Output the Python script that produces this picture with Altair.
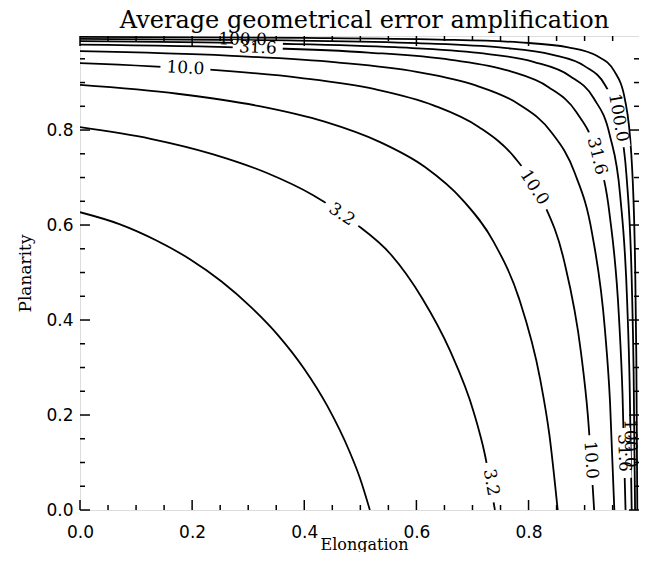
import altair as alt
import pandas as pd

# ---- contour lines (elongation, planarity) ----
levels = ["1.8", "3.2", "5.6", "10.0", "17.8", "31.6", "56.2", "100.0", "178"]
elong = {
    "1.8":   [0, .0702, .1355, .1961, .2525, .3050, .3538, .3991, .4413, .4805, .4991, .517],
    "3.2":   [0, .1260, .2362, .3325, .4166, .4901, .5544, .6105, .6596, .7025, .7219, .740],
    "5.6":   [0, .1739, .3176, .4363, .5343, .6153, .6822, .7375, .7831, .8208, .8372, .852],
    "10.0":  [0, .2203, .3921, .5261, .6305, .7119, .7754, .8248, .8635, .8935, .9060, .917],
    "17.8":  [0, .2634, .4575, .6004, .7057, .7832, .8403, .8823, .9134, .9362, .9453, .953],
    "31.6":  [0, .3031, .5144, .6616, .7642, .8357, .8855, .9202, .9444, .9612, .9676, .973],
    "56.2":  [0, .3387, .5627, .7108, .8088, .8735, .9163, .9447, .9634, .9758, .9803, .984],
    "100.0": [0, .3690, .6019, .7488, .8415, .9000, .9369, .9602, .9749, .9842, .9874, .990],
    "178":   [0, .4005, .6405, .7845, .8708, .9225, .9535, .9722, .9833, .9900, .9922, .994],
}
planar = {
    "1.8":   [.627, .602, .568, .528, .481, .4271, .3673, .2985, .2186, .1237, .068, 0],
    "3.2":   [.806, .7816, .7494, .7100, .6622, .6040, .538, .4454, .3364, .205, .118, 0],
    "5.6":   [.895, .8764, .8508, .8176, .775, .722, .653, .565, .445, .275, .158, 0],
    "10.0":  [.941, .928, .910, .886, .852, .806, .742, .652, .524, .332, .196, 0],
    "17.8":  [.966, .9566, .9424, .9225, .894, .854, .796, .710, .582, .380, .228, 0],
    "31.6":  [.980, .9735, .9632, .9478, .9249, .8903, .8373, .7550, .6241, .4075, .2437, 0],
    "56.2":  [.987, .9822, .9744, .9623, .9436, .9140, .8668, .7901, .6625, .4407, .2666, 0],
    "100.0": [.992, .9887, .9830, .9739, .9590, .9346, .8937, .8237, .7011, .4758, .2916, 0],
    "178":   [.996, .9940, .9905, .9845, .9741, .9558, .9229, .8626, .7486, .5223, .3258, 0],
}

# contour labels: text, elongation, planarity, rotation (deg), has blank background
label_text  = ["3.2", "3.2", "10.0", "10.0", "10.0", "31.6", "31.6", "31.6", "100.0", "100.0", "100.0"]
label_e     = [0.467, 0.733, 0.188, 0.810, 0.911, 0.317, 0.922, 0.970, 0.290, 0.960, 0.981]
label_p     = [0.622, 0.058, 0.930, 0.679, 0.105, 0.973, 0.745, 0.120, 0.990, 0.826, 0.140]
label_angle = [34, 80, 3, 57, 86, 2, 76, 88, 1, 80, 89]
label_blank = [1, 1, 1, 1, 1, 1, 1, 1, 0, 1, 0]

x_major = [0.0, 0.2, 0.4, 0.6, 0.8]
x_minor = [0.05, 0.1, 0.15, 0.25, 0.3, 0.35, 0.45, 0.5, 0.55, 0.65, 0.7, 0.75, 0.85, 0.9, 0.95]
y_major = [0.0, 0.2, 0.4, 0.6, 0.8]
y_minor = [0.05, 0.1, 0.15, 0.25, 0.3, 0.35, 0.45, 0.5, 0.55, 0.65, 0.7, 0.75, 0.85, 0.9, 0.95]

W, H = 559, 474
XDOM = [0, 0.997]
YDOM = [0, 0.998]
SERIF = "DejaVu Serif"
SANS = "DejaVu Sans"

rows = []
for lv in levels:
    for i, (e, p) in enumerate(zip(elong[lv], planar[lv])):
        rows.append({"level": lv, "order": i, "e": e, "p": p})
lines_df = pd.DataFrame(rows)

lab_df = pd.DataFrame({"text": label_text, "e": label_e, "p": label_p,
                       "angle": label_angle, "blank": label_blank})
lab_df["w"] = lab_df["text"].str.len()

xs = alt.Scale(domain=XDOM, nice=False, zero=False)
ys = alt.Scale(domain=YDOM, nice=False, zero=False)

x_axis = alt.Axis(values=x_major, format=".1f", ticks=False, tickSize=0,
                  domain=False, grid=False, labelFont=SANS, labelFontSize=17,
                  labelColor="black", labelPadding=14, labelFlush=False,
                  titleFont=SERIF, titleFontSize=16, titleFontWeight="normal",
                  titleColor="black", titleBaseline="alphabetic", titleY=39, titleX=284)
y_axis = alt.Axis(values=y_major, format=".1f", ticks=False, tickSize=0,
                  domain=False, grid=False, labelFont=SANS, labelFontSize=17,
                  labelColor="black", labelPadding=7, titleFont=SERIF,
                  titleFontSize=17, titleFontWeight="normal", titleColor="black",
                  titlePadding=11)


def X(field):
    return alt.X(field, scale=xs, axis=x_axis, title="Elongation")


def Y(field):
    return alt.Y(field, scale=ys, axis=y_axis, title="Planarity")


lines = alt.Chart(lines_df).mark_line(
    color="black", strokeWidth=1.8, interpolate="monotone", clip=True
).encode(
    x=X("e:Q"), y=Y("p:Q"),
    detail="level:N",
    order="order:Q",
)


def blank_layer(nchar, path, size):
    return alt.Chart(lab_df).transform_filter(
        (alt.datum.blank == 1) & (alt.datum.w == nchar)
    ).mark_point(filled=True, fill="white", opacity=1, strokeWidth=0,
                 shape=path, size=size).encode(
        x=X("e:Q"), y=Y("p:Q"),
        angle=alt.Angle("angle:Q", scale=None),
    )


blank3 = blank_layer(3, "M-1,-0.36L1,-0.36L1,0.36L-1,0.36Z", 40 * 40)
blank4 = blank_layer(4, "M-1,-0.28L1,-0.28L1,0.28L-1,0.28Z", 50 * 50)
blank5 = blank_layer(5, "M-1,-0.24L1,-0.24L1,0.24L-1,0.24Z", 60 * 60)

texts = alt.Chart(lab_df).mark_text(
    font=SERIF, fontSize=17, color="black", align="center", baseline="middle"
).encode(
    x=X("e:Q"), y=Y("p:Q"),
    angle=alt.Angle("angle:Q", scale=None),
    text="text:N",
)


def xticks(vals, length, top):
    d = pd.DataFrame({"v": vals})
    y0 = 0 if top else H
    y1 = length if top else H - length
    return alt.Chart(d).mark_rule(color="black", strokeWidth=1.5).encode(
        x=X("v:Q"), y=alt.value(y0), y2=alt.value(y1))


def yticks(vals, length, right):
    d = pd.DataFrame({"v": vals})
    x0 = W if right else 0
    x1 = W - length if right else length
    return alt.Chart(d).mark_rule(color="black", strokeWidth=1.5).encode(
        y=Y("v:Q"), x=alt.value(x0), x2=alt.value(x1))


ticks = [xticks(x_major, 10, False), xticks(x_minor, 5, False),
         xticks(x_major, 10, True), xticks(x_minor, 5, True),
         yticks(y_major, 10, False), yticks(y_minor, 5, False),
         yticks(y_major, 10, True), yticks(y_minor, 5, True)]

chart = alt.layer(lines, blank3, blank4, blank5, texts, *ticks).properties(
    width=W, height=H,
    title=alt.TitleParams("Average geometrical error amplification", font=SERIF,
                          fontSize=24, fontWeight="normal", color="black",
                          anchor="middle", offset=-3, dx=5),
    padding={"left": 72, "top": 28, "right": 0, "bottom": 42},
    autosize=alt.AutoSizeParams(type="none"),
).configure_view(stroke="black", strokeWidth=2).configure(background="white")

chart.save("out.html", embed_options={"renderer": "svg", "actions": False})
